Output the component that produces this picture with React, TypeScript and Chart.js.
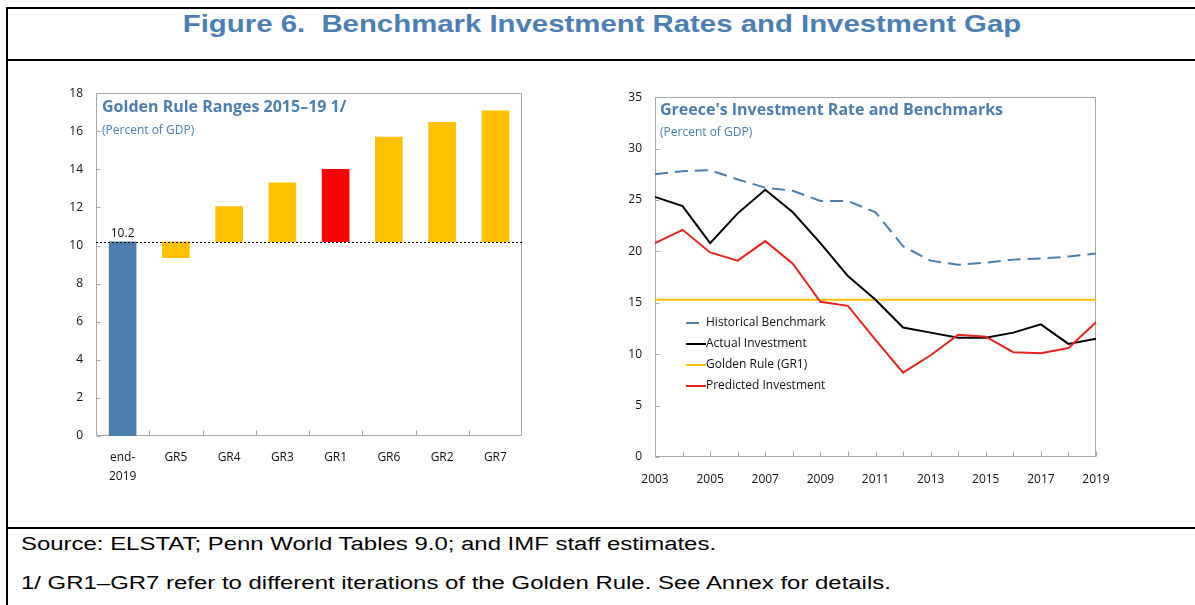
import React, { useEffect, useRef } from "react";
import { Chart, registerables } from "chart.js";

Chart.register(...registerables);

// ---------- Data: left panel (Golden Rule ranges) ----------
const barCategories: (string | string[])[] = [["end-", "2019"], "GR5", "GR4", "GR3", "GR1", "GR6", "GR2", "GR7"];
const currentRate = 10.2;
const goldenRuleRates = [9.36, 12.04, 13.3, 14.0, 15.69, 16.47, 17.07];
const barColors = ["#4A7EAD", "#FFC000", "#FFC000", "#FFC000", "#FF0000", "#FFC000", "#FFC000", "#FFC000"];

// ---------- Data: right panel (investment rate & benchmarks) ----------
const years = ["2003", "2004", "2005", "2006", "2007", "2008", "2009", "2010", "2011", "2012", "2013", "2014", "2015", "2016", "2017", "2018", "2019"];
const historicalBenchmark = [27.5, 27.8, 27.9, 27.0, 26.2, 25.9, 24.9, 24.9, 23.8, 20.5, 19.1, 18.7, 18.9, 19.2, 19.3, 19.5, 19.8];
const actualInvestment = [25.3, 24.4, 20.8, 23.7, 26.0, 23.8, 20.8, 17.6, 15.3, 12.6, 12.1, 11.6, 11.6, 12.1, 12.9, 11.0, 11.5];
const goldenRuleGR1 = 15.3;
const predictedInvestment = [20.8, 22.1, 19.9, 19.1, 21.0, 18.8, 15.1, 14.7, 11.4, 8.2, 9.9, 11.9, 11.7, 10.2, 10.1, 10.6, 13.1];

const TITLE_BLUE = "#4A7EAD";
const FONT = "'Open Sans', 'Noto Sans', sans-serif";

Chart.defaults.font.family = FONT;
Chart.defaults.font.size = 12;
Chart.defaults.color = "#111";

function framePlugin(xMode: "between" | "each") {
  return {
    id: "frameTicks",
    beforeDatasetsDraw(chart: any) {
      const { ctx, chartArea: a, scales } = chart;
      const x = scales.x;
      const y = scales.y;
      ctx.save();
      ctx.strokeStyle = "#A6A6A6";
      ctx.lineWidth = 1;
      const L = Math.round(a.left) + 0.5;
      const R = Math.round(a.right) - 0.5;
      const T = Math.round(a.top) + 0.5;
      const B = Math.round(a.bottom) - 0.5;
      ctx.beginPath();
      ctx.rect(L, T, R - L, B - T);
      y.ticks.forEach((t: any) => {
        const py = Math.round(y.getPixelForValue(t.value)) + 0.5;
        ctx.moveTo(L, py);
        ctx.lineTo(L + 4, py);
      });
      const n = x.getLabels().length;
      if (xMode === "between") {
        for (let i = 0; i < n - 1; i++) {
          const px = Math.round((x.getPixelForValue(i) + x.getPixelForValue(i + 1)) / 2) + 0.5;
          ctx.moveTo(px, B);
          ctx.lineTo(px, B - 5);
        }
      } else {
        for (let i = 0; i < n; i++) {
          const px = Math.round(x.getPixelForValue(i)) + 0.5;
          ctx.moveTo(px, B);
          ctx.lineTo(px, B - 5);
        }
      }
      ctx.stroke();
      ctx.restore();
    },
  };
}

function titlePlugin(title: string, subtitle: string, dx: number, ty: number, sy: number) {
  return {
    id: "panelTitle",
    afterDraw(chart: any) {
      const { ctx, chartArea: a } = chart;
      ctx.save();
      ctx.fillStyle = TITLE_BLUE;
      ctx.textBaseline = "middle";
      ctx.textAlign = "left";
      ctx.font = `bold 16px ${FONT}`;
      ctx.fillText(title, a.left + dx, a.top + ty);
      ctx.font = `12px ${FONT}`;
      ctx.fillText(subtitle, a.left + dx, a.top + sy);
      ctx.restore();
    },
  };
}

const baselinePlugin = {
  id: "baseline",
  afterDatasetsDraw(chart: any) {
    const { ctx, chartArea: a, scales } = chart;
    const py = Math.round(scales.y.getPixelForValue(currentRate)) + 0.5;
    ctx.save();
    ctx.strokeStyle = "#000";
    ctx.lineWidth = 1;
    ctx.setLineDash([2, 2]);
    ctx.beginPath();
    ctx.moveTo(a.left, py);
    ctx.lineTo(a.right, py);
    ctx.stroke();
    ctx.setLineDash([]);
    ctx.fillStyle = "#111";
    ctx.font = `12px ${FONT}`;
    ctx.textAlign = "center";
    ctx.textBaseline = "middle";
    ctx.fillText(currentRate.toFixed(1), scales.x.getPixelForValue(0), py - 9);
    ctx.restore();
  },
};

const legendOrder = [0, 1, 2, 3];
const innerLegendPlugin = {
  id: "innerLegend",
  afterDraw(chart: any) {
    const { ctx, chartArea: a } = chart;
    const x0 = a.left + 31;
    const y0 = a.top + 226;
    ctx.save();
    ctx.font = `12px ${FONT}`;
    ctx.textBaseline = "middle";
    ctx.textAlign = "left";
    legendOrder.forEach((di, k) => {
      const ds = chart.data.datasets[di];
      const yy = Math.round(y0 + k * 20.9);
      ctx.strokeStyle = ds.borderColor;
      ctx.lineWidth = 2;
      ctx.setLineDash(ds.borderDash || []);
      ctx.beginPath();
      ctx.moveTo(x0, yy);
      ctx.lineTo(x0 + 20, yy);
      ctx.stroke();
      ctx.setLineDash([]);
      ctx.fillStyle = "#111";
      ctx.fillText(ds.label, x0 + 20, yy);
    });
    ctx.restore();
  },
};

function LeftChart() {
  const ref = useRef<HTMLCanvasElement>(null);
  useEffect(() => {
    const data = [[0, currentRate], ...goldenRuleRates.map((v) => [Math.min(v, currentRate), Math.max(v, currentRate)])];
    const chart = new Chart(ref.current!, {
      type: "bar",
      data: {
        labels: barCategories as any,
        datasets: [
          {
            label: "Golden Rule Ranges",
            data: data as any,
            backgroundColor: barColors,
            borderWidth: 0,
            barThickness: 27,
          },
        ],
      },
      options: {
        animation: false,
        responsive: true,
        maintainAspectRatio: false,
        layout: { padding: { left: 0, right: 8, top: 0, bottom: 10 } },
        plugins: { legend: { display: false }, tooltip: { enabled: false } },
        scales: {
          x: {
            offset: true,
            grid: { display: false, drawTicks: false },
            border: { display: false },
            ticks: { padding: 12.7, font: { size: 12, lineHeight: 1.55 }, color: "#111", autoSkip: false, maxRotation: 0 },
            afterFit: (s: any) => {
              s.height = 54;
            },
          },
          y: {
            min: 0,
            max: 18,
            grid: { display: false, drawTicks: false },
            border: { display: false },
            ticks: { stepSize: 2, padding: 13, color: "#111", font: { size: 12 } },
            afterFit: (s: any) => {
              s.width = 46;
            },
          },
        },
      },
      plugins: [framePlugin("between"), baselinePlugin, titlePlugin("Golden Rule Ranges 2015\u201319 1/", "(Percent of GDP)", 6, 14, 37)],
    });
    return () => chart.destroy();
  }, []);
  return (
    <div style={{ position: "absolute", left: 50, top: 73, width: 480, height: 427 }}>
      <canvas ref={ref} />
    </div>
  );
}

function RightChart() {
  const ref = useRef<HTMLCanvasElement>(null);
  useEffect(() => {
    const chart = new Chart(ref.current!, {
      type: "line",
      data: {
        labels: years,
        datasets: [
          { label: "Historical Benchmark", data: historicalBenchmark, borderColor: "#4A7EAD", borderWidth: 2, borderDash: [13, 7], pointRadius: 0, order: 4 },
          { label: "Actual Investment", data: actualInvestment, borderColor: "#000000", borderWidth: 2, pointRadius: 0, order: 2 },
          { label: "Golden Rule (GR1)", data: years.map(() => goldenRuleGR1), borderColor: "#FFC000", borderWidth: 2, pointRadius: 0, order: 3 },
          { label: "Predicted Investment", data: predictedInvestment, borderColor: "#E8231E", borderWidth: 2, pointRadius: 0, order: 1 },
        ] as any,
      },
      options: {
        animation: false,
        responsive: true,
        maintainAspectRatio: false,
        layout: { padding: { left: 0, right: 54, top: 0, bottom: 10 } },
        plugins: { legend: { display: false }, tooltip: { enabled: false } },
        scales: {
          x: {
            offset: false,
            grid: { display: false, drawTicks: false },
            border: { display: false },
            ticks: {
              padding: 15,
              color: "#111",
              autoSkip: false,
              maxRotation: 0,
              font: { size: 12 },
              callback: (_v: any, i: number) => (i % 2 === 0 ? years[i] : ""),
            },
            afterFit: (s: any) => {
              s.height = 33;
            },
          },
          y: {
            min: 0,
            max: 35,
            grid: { display: false, drawTicks: false },
            border: { display: false },
            ticks: { stepSize: 5, padding: 13, color: "#111", font: { size: 12 } },
            afterFit: (s: any) => {
              s.width = 50;
            },
          },
        },
      },
      plugins: [framePlugin("each"), innerLegendPlugin, titlePlugin("Greece's Investment Rate and Benchmarks", "(Percent of GDP)", 5, 13, 35)],
    });
    return () => chart.destroy();
  }, []);
  return (
    <div style={{ position: "absolute", left: 605, top: 77, width: 545, height: 423 }}>
      <canvas ref={ref} />
    </div>
  );
}

export default function App() {
  const line = (s: React.CSSProperties): React.CSSProperties => ({ position: "absolute", background: "#000", ...s });
  const footStyle: React.CSSProperties = {
    position: "absolute",
    left: 21,
    whiteSpace: "nowrap",
    fontFamily: "'Liberation Sans', Arial, sans-serif",
    fontSize: 18,
    lineHeight: "18px",
    color: "#000",
    transformOrigin: "left top",
    transform: "scaleX(1.33)",
  };
  return (
    <div style={{ position: "absolute", left: 0, top: 0, width: 1195, height: 605, background: "#fff", overflow: "hidden" }}>
      <div style={line({ left: 6, top: 7, width: 1189, height: 2 })} />
      <div style={line({ left: 6, top: 7, width: 2, height: 598 })} />
      <div style={line({ left: 6, top: 59, width: 1189, height: 2 })} />
      <div style={line({ left: 6, top: 527, width: 1189, height: 2 })} />
      <div
        style={{
          position: "absolute",
          left: 602,
          top: 12,
          whiteSpace: "nowrap",
          fontFamily: "'Liberation Sans', Arial, sans-serif",
          fontWeight: "bold",
          fontSize: 24,
          lineHeight: "24px",
          color: "#4B7EB5",
          transform: "translateX(-50%) scaleX(1.223)",
        }}
      >
        Figure 6.&nbsp; Benchmark Investment Rates and Investment Gap
      </div>
      <LeftChart />
      <RightChart />
      <div style={{ ...footStyle, top: 535 }}>Source: ELSTAT; Penn World Tables 9.0; and IMF staff estimates.</div>
      <div style={{ ...footStyle, top: 574 }}>1/ GR1–GR7 refer to different iterations of the Golden Rule. See Annex for details.</div>
    </div>
  );
}
